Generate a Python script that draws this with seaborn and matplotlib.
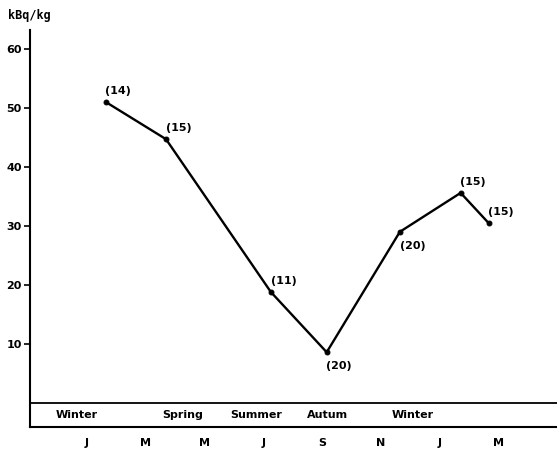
import matplotlib
matplotlib.use("Agg")
import matplotlib.pyplot as plt
import seaborn as sns
import pandas as pd

# Data (x in months from first January)
month_pos = [0.64, 2.69, 6.26, 8.16, 10.65, 12.72, 13.67]
activity = [51.0, 44.7, 18.8, 8.6, 29.0, 35.6, 30.5]
n_samples = [14, 15, 11, 20, 20, 15, 15]
label_side = ["above", "above", "above", "below", "below", "above", "above"]

month_ticks = [0, 2, 4, 6, 8, 10, 12, 14]
month_labels = ["J", "M", "M", "J", "S", "N", "J", "M"]
seasons = ["Winter", "Spring", "Summer", "Autum", "Winter"]
season_x = [-0.34, 3.27, 5.75, 8.2, 11.1]

df = pd.DataFrame({"month": month_pos, "kbq": activity})

sns.set_style("white")
plt.rcParams["font.family"] = ["DejaVu Sans"]
plt.rcParams["font.weight"] = "bold"
plt.rcParams["text.color"] = "black"
plt.rcParams["xtick.color"] = "black"
plt.rcParams["ytick.color"] = "black"

fig = plt.figure(figsize=(5.57, 4.5), dpi=100)
ax = fig.add_axes([30 / 557, 23 / 450, 527 / 557, 397 / 450])

sns.lineplot(data=df, x="month", y="kbq", ax=ax, color="black", linewidth=1.7,
             marker="o", markersize=3.5, markeredgecolor="black")

for x, y, n, side in zip(month_pos, activity, n_samples, label_side):
    dy = 8 if side == "above" else -10
    ax.annotate(f"({n})", (x, y), xytext=(9, dy), textcoords="offset points",
                ha="center", va="center", fontsize=8, fontweight="bold")

ax.set_xlim(-1.94, 16.0)
ax.set_ylim(-4.07, 63.2)

ax.axhline(0, color="black", linewidth=1.3)
for s, sx in zip(seasons, season_x):
    ax.text(sx, -2.0, s, ha="center", va="center", fontsize=8, fontweight="bold")

ax.set_yticks([10, 20, 30, 40, 50, 60])
ax.set_yticklabels(["10", "20", "30", "40", "50", "60"], fontsize=8, fontweight="bold")
ax.set_xticks(month_ticks)
ax.set_xticklabels(month_labels, fontsize=8, fontweight="bold")
ax.tick_params(axis="y", direction="out", length=4, width=1.2, color="black", pad=2, left=True)
ax.tick_params(axis="x", length=0, pad=8)

ax.set_xlabel("")
ax.set_ylabel("")
for side in ["top", "right"]:
    ax.spines[side].set_visible(False)
for side in ["left", "bottom"]:
    ax.spines[side].set_color("black")
    ax.spines[side].set_linewidth(1.5)

fig.text(8 / 557, 1 - 16 / 450, "kBq/kg", family="DejaVu Sans Mono",
         fontsize=8.5, fontweight="bold", ha="left", va="center")

fig.savefig("out.png", dpi=100)
